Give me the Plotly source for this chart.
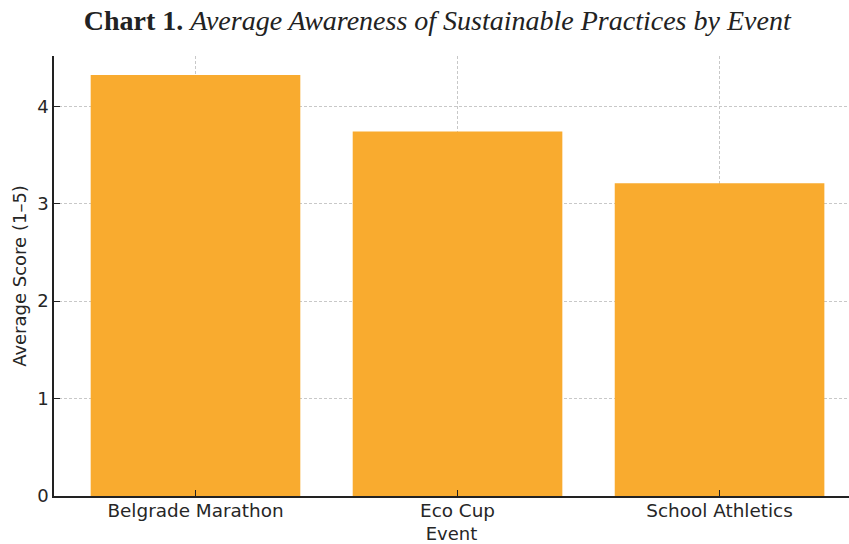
import plotly.graph_objects as go

events = ["Belgrade Marathon", "Eco Cup", "School Athletics"]
scores = [4.32, 3.74, 3.21]
y_ticks = [0, 1, 2, 3, 4]

fig = go.Figure(go.Bar(
    x=events, y=scores, width=0.8,
    marker=dict(color="#F9AB2F", line=dict(width=0)),
))

fig.update_layout(
    width=849, height=544,
    margin=dict(l=54, r=0, t=56, b=48),
    paper_bgcolor="white", plot_bgcolor="white",
    showlegend=False,
    title=dict(
        text="<b>Chart 1.</b> <i>Average Awareness of Sustainable Practices by Event</i>",
        x=0.515, xanchor="center", y=0.963, yanchor="middle",
        font=dict(family="Liberation Serif", size=28, color="#222222"),
    ),
    font=dict(family="DejaVu Sans", size=18, color="#262626"),
)

fig.update_xaxes(
    range=[-0.54, 2.494],
    showline=True, linecolor="#222222", linewidth=1.5,
    ticks="inside", ticklen=6, tickcolor="#222222",
    showgrid=True, gridcolor="#c8c8c8", gridwidth=1, griddash="3px,2px",
    layer="above traces",
    title=dict(text="Event", font=dict(size=18), standoff=9),
    tickfont=dict(size=18.4),
    ticklabelstandoff=-3,
    zeroline=False,
)
fig.update_yaxes(
    range=[0, 4.515],
    tickvals=y_ticks,
    showline=True, linecolor="#222222", linewidth=1.5,
    ticks="inside", ticklen=6, tickcolor="#222222",
    showgrid=True, gridcolor="#c8c8c8", gridwidth=1, griddash="3px,2px",
    layer="above traces",
    title=dict(text="Average Score (1–5)", font=dict(size=18), standoff=6),
    tickfont=dict(size=18),
    zeroline=False,
)

fig.write_html("out.html")
